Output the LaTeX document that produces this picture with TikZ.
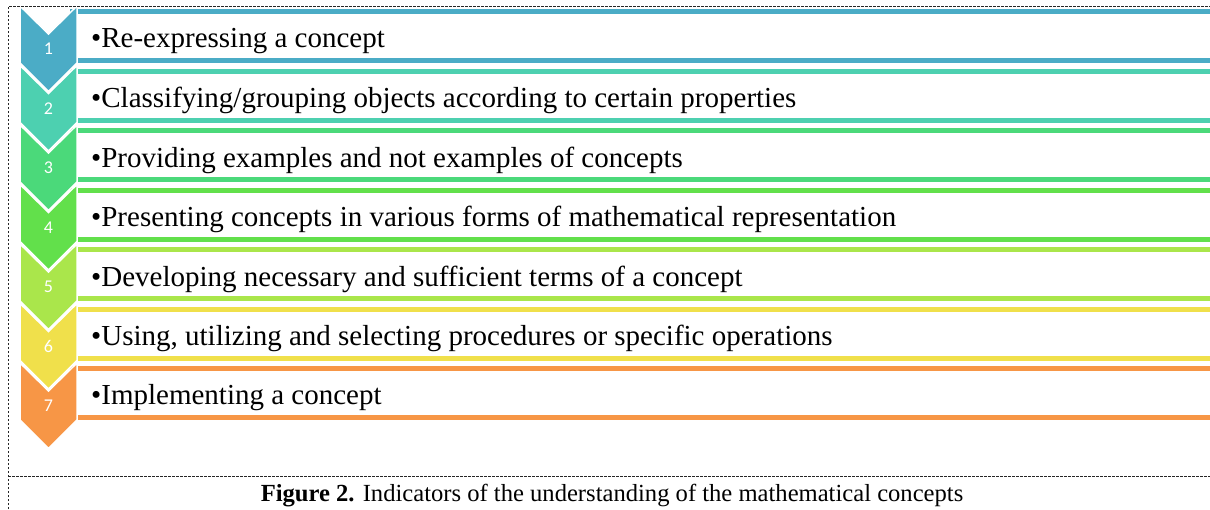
\documentclass[tikz,border=0pt]{standalone}
\usepackage{fontspec}
\setmainfont{Liberation Serif}
\newfontfamily\numfont{Carlito}
\definecolor{c1}{RGB}{75,172,198}
\definecolor{c2}{RGB}{77,208,176}
\definecolor{c3}{RGB}{75,217,122}
\definecolor{c4}{RGB}{98,224,75}
\definecolor{c5}{RGB}{170,230,75}
\definecolor{c6}{RGB}{240,224,75}
\definecolor{c7}{RGB}{247,150,70}
\tikzset{
  chev/.style={fill=#1, draw=white, line width=1.5pt, line join=miter},
  itembox/.style={draw=#1, fill=white, line width=5pt},
  numtxt/.style={text=white, font=\numfont\fontsize{18}{20}\selectfont, inner sep=0pt},
  itemtxt/.style={anchor=west, font=\fontsize{29}{33}\selectfont, inner sep=0pt, text=black},
  frameline/.style={dash pattern=on 2.5pt off 1.5pt, line width=1pt, draw=black!85}
}
\begin{document}
\begin{tikzpicture}[x=1pt,y=-1pt]
\useasboundingbox (0,0) rectangle (1210,509);
\fill[white] (0,0) rectangle (1210,509);
\begin{scope}
\clip (0,0) rectangle (1210,509);
\foreach \i/\t in {1/{Re-expressing a concept},
  2/{Classifying/grouping objects according to certain properties},
  3/{Providing examples and not examples of concepts},
  4/{Presenting concepts in various forms of mathematical representation},
  5/{Developing necessary and sufficient terms of a concept},
  6/{Using, utilizing and selecting procedures or specific operations},
  7/{Implementing a concept}}{
  \pgfmathsetmacro{\yt}{6+(\i-1)*59.5}
  \draw[itembox=c\i] (72,\yt+5.5) rectangle (1230,\yt+54.5);
  \node[itemtxt] (t\i) at (91,\yt+35) {\textbullet\t};
}
\foreach \i in {1,...,7}{
  \pgfmathsetmacro{\yt}{6+(\i-1)*59.5}
  \draw[chev=c\i] (20,\yt) -- (48.5,\yt+28) -- (77,\yt) -- (77,\yt+57) -- (48.5,\yt+85.5) -- (20,\yt+57) -- cycle;
  \node[numtxt] (n\i) at (48.5,\yt+43) {\i};
}
\end{scope}
\draw[frameline] (8,509) -- (8,6) -- (1212,6);
\draw[frameline] (8,476) -- (1212,476);
\node[font=\fontsize{24.6}{28}\selectfont, inner sep=0pt] (cap) at (612,496) {\textbf{Figure 2.} Indicators of the understanding of the mathematical concepts};
\end{tikzpicture}
\end{document}
